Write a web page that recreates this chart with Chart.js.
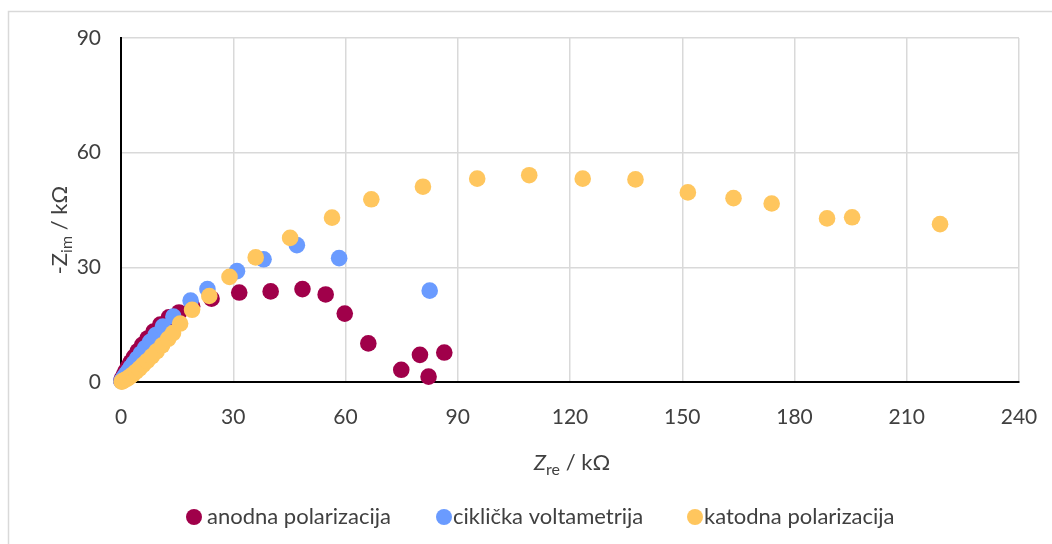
<!DOCTYPE html>
<html>
<head>
<meta charset="utf-8">
<script src="https://cdn.jsdelivr.net/npm/chart.js@4.4.1/dist/chart.umd.min.js"></script>
<style>
  html, body { margin: 0; padding: 0; background: #ffffff; }
  #wrap { width: 1052px; height: 544px; position: relative; }
</style>
</head>
<body>
<div id="wrap"><canvas id="nyquist" width="1052" height="544"></canvas></div>
<script>
// Nyquist plot data (kΩ)
const seriesNames = ['anodna polarizacija', 'ciklička voltametrija', 'katodna polarizacija'];

const anodnaRe = [0.1, 0.4, 0.8, 1.3, 1.9, 2.6, 3.5, 4.5, 5.7, 7.1, 8.7, 10.5, 12.8, 15.5, 19.0, 24.2, 31.6, 40.0, 48.5, 54.7, 59.8, 66.1, 74.9, 79.9, 82.2, 86.4];
const anodnaIm = [0.4, 1.1, 1.9, 2.9, 4.0, 5.2, 6.6, 8.1, 9.7, 11.4, 13.2, 15.0, 16.9, 18.2, 19.8, 21.8, 23.4, 23.7, 24.3, 22.9, 17.9, 10.1, 3.2, 7.1, 1.4, 7.7];

const ciklickaRe = [0.1, 0.4, 0.8, 1.3, 1.9, 2.6, 3.4, 4.3, 5.3, 6.5, 7.8, 9.3, 11.2, 14.0, 18.6, 23.1, 31.0, 38.1, 47.0, 58.3, 82.5];
const ciklickaIm = [0.2, 0.7, 1.3, 2.0, 2.8, 3.8, 4.9, 6.1, 7.4, 8.9, 10.5, 12.3, 14.5, 17.1, 21.3, 24.3, 29.0, 32.1, 35.8, 32.4, 23.9];

const katodnaRe = [0.2, 0.6, 1.1, 1.7, 2.4, 3.2, 4.0, 4.9, 5.9, 7.0, 8.2, 9.5, 11.0, 12.6, 13.9, 15.8, 19.0, 23.6, 29.0, 36.0, 45.2, 56.4, 66.9, 80.7, 95.2, 109.1, 123.4, 137.5, 151.5, 163.7, 173.9, 188.7, 195.4, 218.9];
const katodnaIm = [0.1, 0.3, 0.6, 0.9, 1.4, 2.0, 2.7, 3.5, 4.5, 5.5, 6.7, 8.0, 9.6, 11.3, 12.8, 15.3, 18.9, 22.5, 27.5, 32.6, 37.7, 43.0, 47.8, 51.1, 53.2, 54.1, 53.2, 53.0, 49.6, 48.1, 46.7, 42.8, 43.1, 41.3];

const xTicks = [0, 30, 60, 90, 120, 150, 180, 210, 240];
const yTicks = [0, 30, 60, 90];

const seriesColors = ['#A0004A', '#6A9BFF', '#FFC65E'];

const FONT = 'Lato, "Open Sans", "Noto Sans", sans-serif';
const TEXT_COLOR = '#404040';

function toPoints(xs, ys) {
  return xs.map((x, i) => ({ x: x, y: ys[i] }));
}

// Chart frame, axis titles with subscripts and the legend row
const decorations = {
  id: 'decorations',
  beforeDraw(chart) {
    const ctx = chart.ctx;
    ctx.save();
    ctx.fillStyle = '#ffffff';
    ctx.fillRect(0, 0, chart.width, chart.height);
    ctx.strokeStyle = '#D9D9D9';
    ctx.lineWidth = 1.5;
    ctx.strokeRect(8.5, 11.5, chart.width + 20, chart.height + 20);
    ctx.restore();
  },
  afterDraw(chart) {
    const ctx = chart.ctx;
    const area = chart.chartArea;
    ctx.save();
    ctx.fillStyle = TEXT_COLOR;
    ctx.textBaseline = 'alphabetic';

    // composite text: [text, font, baselineShift]
    function drawParts(parts, x, y) {
      let cx = x;
      parts.forEach(p => {
        ctx.font = p[1];
        ctx.fillText(p[0], cx, y + p[2]);
        cx += ctx.measureText(p[0]).width;
      });
    }
    function partsWidth(parts) {
      let w = 0;
      parts.forEach(p => { ctx.font = p[1]; w += ctx.measureText(p[0]).width; });
      return w;
    }

    // x-axis title: Zre / kΩ
    const xParts = [
      ['Z', 'italic 22px ' + FONT, 0],
      ['re', '16px ' + FONT, 5],
      [' / kΩ', '22px ' + FONT, 0]
    ];
    const xCenter = (area.left + area.right) / 2 + 2;
    ctx.textAlign = 'left';
    drawParts(xParts, xCenter - partsWidth(xParts) / 2, 470);

    // y-axis title: -Zim / kΩ
    const yParts = [
      ['-Z', '22px ' + FONT, 0],
      ['im', '16px ' + FONT, 5],
      [' / kΩ', '22px ' + FONT, 0]
    ];
    ctx.save();
    ctx.translate(67, 230);
    ctx.rotate(-Math.PI / 2);
    drawParts(yParts, -partsWidth(yParts) / 2, 0);
    ctx.restore();

    // legend
    const legendMarkers = [194, 444, 695];
    const legendTextStart = [207, 453, 704];
    const legendY = 517;
    chart.data.datasets.forEach((ds, i) => {
      ctx.beginPath();
      ctx.arc(legendMarkers[i], legendY, 8, 0, Math.PI * 2);
      ctx.fillStyle = ds.backgroundColor;
      ctx.fill();
      ctx.fillStyle = TEXT_COLOR;
      ctx.font = '22px ' + FONT;
      ctx.textAlign = 'left';
      ctx.textBaseline = 'middle';
      ctx.fillText(ds.label, legendTextStart[i], legendY);
    });
    ctx.restore();
  }
};

const datasets = [
  { label: seriesNames[0], data: toPoints(anodnaRe, anodnaIm), backgroundColor: seriesColors[0], order: 2 },
  { label: seriesNames[1], data: toPoints(ciklickaRe, ciklickaIm), backgroundColor: seriesColors[1], order: 1 },
  { label: seriesNames[2], data: toPoints(katodnaRe, katodnaIm), backgroundColor: seriesColors[2], order: 0 }
].map(d => Object.assign(d, {
  pointRadius: 8.3,
  pointHoverRadius: 8.3,
  borderWidth: 0,
  pointBorderWidth: 0,
  borderColor: d.backgroundColor,
  clip: false
}));

new Chart(document.getElementById('nyquist'), {
  type: 'scatter',
  data: { datasets: datasets },
  options: {
    responsive: false,
    animation: false,
    devicePixelRatio: 1,
    layout: { padding: { left: 0, right: 33, top: 38, bottom: 0 } },
    plugins: {
      legend: { display: false },
      tooltip: { enabled: false }
    },
    scales: {
      x: {
        type: 'linear',
        min: xTicks[0],
        max: xTicks[xTicks.length - 1],
        afterBuildTicks: s => { s.ticks = xTicks.map(v => ({ value: v })); },
        afterFit: s => { s.height = 162; s.paddingLeft = 0; s.paddingRight = 0; },
        ticks: { color: TEXT_COLOR, font: { family: FONT, size: 21 }, padding: 23, maxRotation: 0 },
        grid: { color: '#D9D9D9', lineWidth: 1.5, drawTicks: false },
        border: { display: true, color: '#000000', width: 2 }
      },
      y: {
        type: 'linear',
        min: yTicks[0],
        max: yTicks[yTicks.length - 1],
        afterBuildTicks: s => { s.ticks = yTicks.map(v => ({ value: v })); },
        afterFit: s => { s.width = 121; s.paddingTop = 0; s.paddingBottom = 0; },
        ticks: { color: TEXT_COLOR, font: { family: FONT, size: 21 }, padding: 20 },
        grid: { color: '#D9D9D9', lineWidth: 1.5, drawTicks: false },
        border: { display: true, color: '#000000', width: 2 }
      }
    }
  },
  plugins: [decorations]
});
</script>
</body>
</html>
